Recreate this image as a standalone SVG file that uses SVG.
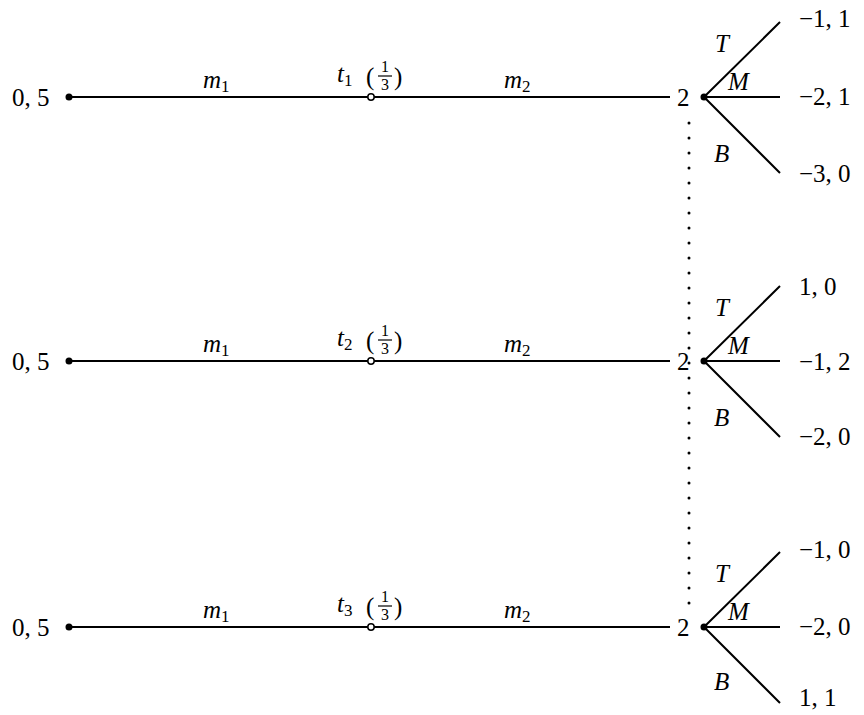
<svg xmlns="http://www.w3.org/2000/svg" width="864" height="715" viewBox="0 0 864 715" font-family="'Liberation Serif', 'DejaVu Serif', serif">
<style>
text{font-family:"Liberation Serif","DejaVu Serif",serif;font-size:25px;fill:#000}
.i{font-style:italic}
.s{font-size:17px;font-style:normal}
.f{font-size:16px}
.ln{stroke:#000;stroke-width:2;fill:none}
.dot{fill:#000}
.open{fill:#fff;stroke:#000;stroke-width:1.5}
.bar{stroke:#000;stroke-width:1.2}
</style>
<rect width="864" height="715" fill="#fff"/>
<g id="connectors">
<line class="ln" x1="69" y1="97" x2="670" y2="97"/>
<line class="ln" x1="69" y1="361" x2="670" y2="361"/>
<line class="ln" x1="69" y1="627" x2="670" y2="627"/>
<path class="ln" d="M704 97L780 22M704 97H780M704 97L780 173"/>
<path class="ln" d="M704 361L780 286M704 361H780M704 361L780 437"/>
<path class="ln" d="M704 627L780 552M704 627H780M704 627L780 703"/>
<line x1="689" y1="123" x2="689" y2="612" stroke="#000" stroke-width="3" stroke-linecap="round" stroke-dasharray="0 15"/>
</g>
<g id="row1">
<text x="12" y="106">0, 5</text>
<circle class="dot" cx="69" cy="97" r="3.5"/>
<text x="203" y="88" class="i">m<tspan class="s" dy="4">1</tspan></text>
<text x="337" y="82" class="i">t<tspan class="s" dy="4">1</tspan></text>
<text x="366" y="85">(</text>
<text x="381" y="72" class="f">1</text><line class="bar" x1="378" y1="76" x2="392" y2="76"/><text x="381" y="90" class="f">3</text>
<text x="394" y="85">)</text>
<circle class="open" cx="371" cy="97" r="3.2"/>
<text x="504" y="88" class="i">m<tspan class="s" dy="4">2</tspan></text>
<text x="677" y="106">2</text>
<circle class="dot" cx="704" cy="97" r="3.5"/>
<text x="715" y="52" class="i">T</text>
<text x="728" y="90" class="i">M</text>
<text x="714" y="162" class="i">B</text>
<text x="799" y="27">−1, 1</text>
<text x="799" y="105">−2, 1</text>
<text x="799" y="182">−3, 0</text>
</g>
<g id="row2">
<text x="12" y="370">0, 5</text>
<circle class="dot" cx="69" cy="361" r="3.5"/>
<text x="203" y="352" class="i">m<tspan class="s" dy="4">1</tspan></text>
<text x="337" y="346" class="i">t<tspan class="s" dy="4">2</tspan></text>
<text x="366" y="349">(</text>
<text x="381" y="336" class="f">1</text><line class="bar" x1="378" y1="340" x2="392" y2="340"/><text x="381" y="354" class="f">3</text>
<text x="394" y="349">)</text>
<circle class="open" cx="371" cy="361" r="3.2"/>
<text x="504" y="352" class="i">m<tspan class="s" dy="4">2</tspan></text>
<text x="677" y="370">2</text>
<circle class="dot" cx="704" cy="361" r="3.5"/>
<text x="715" y="316" class="i">T</text>
<text x="728" y="354" class="i">M</text>
<text x="714" y="426" class="i">B</text>
<text x="799" y="295">1, 0</text>
<text x="799" y="370">−1, 2</text>
<text x="799" y="445">−2, 0</text>
</g>
<g id="row3">
<text x="12" y="636">0, 5</text>
<circle class="dot" cx="69" cy="627" r="3.5"/>
<text x="203" y="618" class="i">m<tspan class="s" dy="4">1</tspan></text>
<text x="337" y="612" class="i">t<tspan class="s" dy="4">3</tspan></text>
<text x="366" y="615">(</text>
<text x="381" y="602" class="f">1</text><line class="bar" x1="378" y1="606" x2="392" y2="606"/><text x="381" y="620" class="f">3</text>
<text x="394" y="615">)</text>
<circle class="open" cx="371" cy="627" r="3.2"/>
<text x="504" y="618" class="i">m<tspan class="s" dy="4">2</tspan></text>
<text x="677" y="636">2</text>
<circle class="dot" cx="704" cy="627" r="3.5"/>
<text x="715" y="582" class="i">T</text>
<text x="728" y="620" class="i">M</text>
<text x="714" y="690" class="i">B</text>
<text x="799" y="558">−1, 0</text>
<text x="799" y="635">−2, 0</text>
<text x="799" y="706">1, 1</text>
</g>
</svg>
